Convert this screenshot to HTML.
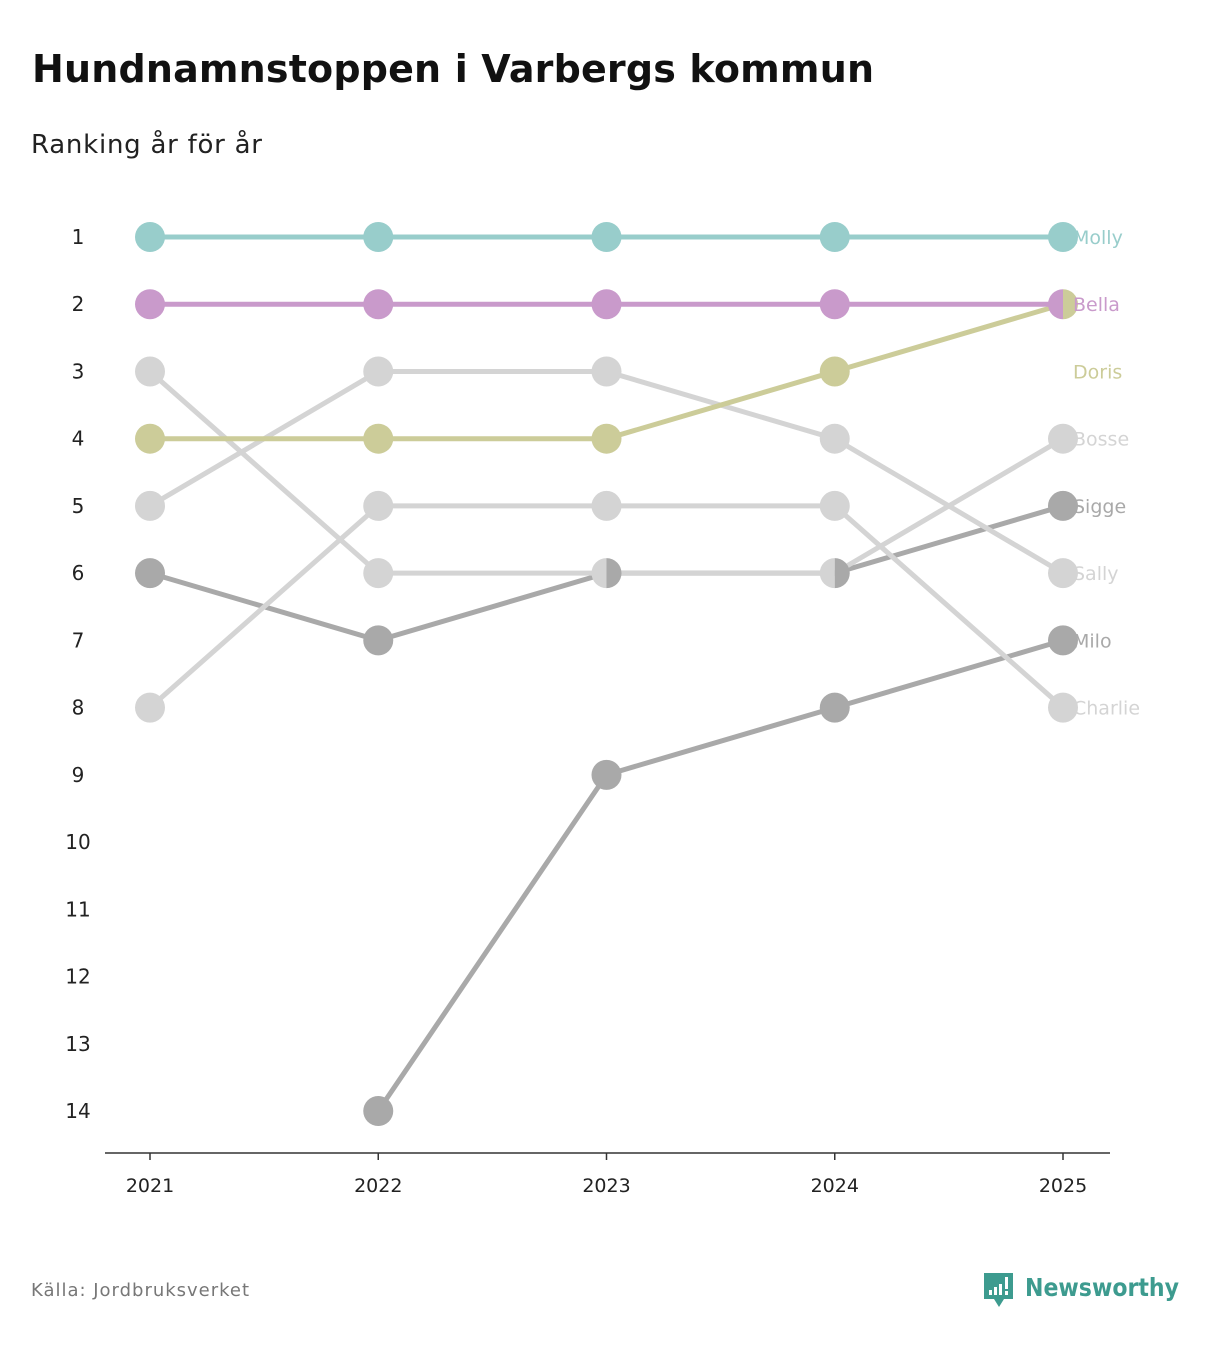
<!DOCTYPE html>
<html><head><meta charset="utf-8"><style>
body{margin:0;background:#fff;}
svg text{font-family:"DejaVu Sans","Liberation Sans",sans-serif;}
</style></head><body>
<svg id="c" width="1212" height="1340" xmlns="http://www.w3.org/2000/svg">
<text x="32" y="82" font-size="38" font-weight="bold" fill="#111" textLength="842">Hundnamnstoppen i Varbergs kommun</text>
<text x="31" y="153" font-size="26" fill="#222" textLength="231">Ranking år för år</text>
<text x="31" y="1296" font-size="18" fill="#777" textLength="218">Källa: Jordbruksverket</text>
<g>
<path d="M984 1273 h29 v26 h-9 l-5 8 l-5 -8 h-10 z" fill="#3d9b8f"/>
<rect x="989" y="1290" width="3" height="5" fill="#fff"/><rect x="994" y="1287" width="3" height="8" fill="#fff"/><rect x="999" y="1284" width="3" height="11" fill="#fff"/><rect x="1005" y="1277" width="3" height="12" fill="#fff"/><rect x="1005" y="1291" width="3" height="4" fill="#fff"/>
<text x="1025" y="1296" font-size="25" font-weight="bold" fill="#3d9b8f" textLength="154" lengthAdjust="spacingAndGlyphs">Newsworthy</text>
</g>
<g id="plot"></g>
</svg>
<script>
const years=[2021,2022,2023,2024,2025];
const names=["Sigge","Milo","Bosse","Sally","Charlie","Doris","Bella","Molly"];
const rMolly=[1,1,1,1,1];
const rBella=[2,2,2,2,2];
const rDoris=[4,4,4,3,2];
const rBosse=[3,6,6,6,4];
const rSally=[5,3,3,4,6];
const rCharlie=[8,5,5,5,8];
const rSigge=[6,7,6,6,5];
const rMilo=[null,14,9,8,7];
const rankTicks=[1,2,3,4,5,6,7,8,9,10,11,12,13,14];
const labelRanks=[5,7,4,6,8,3,2,1];
const ranks=[rSigge,rMilo,rBosse,rSally,rCharlie,rDoris,rBella,rMolly];
const colors=["#a9a9a9","#a9a9a9","#d4d4d4","#d4d4d4","#d4d4d4","#cccc99","#c99acb","#98cdcb"];
const X=i=>150+i*228.25;
const Y=r=>237+(r-1)*67.23;
const NS="http://www.w3.org/2000/svg";
const g=document.getElementById('plot');
function mk(t,a){const e=document.createElementNS(NS,t);for(const k in a)e.setAttribute(k,a[k]);g.appendChild(e);return e;}
const ax=mk('line',{x1:105,x2:1110,y1:1153,y2:1153,stroke:'#333','stroke-width':1.5});


years.forEach((y,i)=>{
 const t=mk('line',{x1:X(i),x2:X(i),y1:1153,y2:1160,stroke:'#333','stroke-width':1.5});
 
 
 const l=mk('text',{x:X(i),y:1192,'text-anchor':'middle','font-size':19,fill:'#222'});l.textContent=y;
 
 
});
rankTicks.forEach(r=>{
 const l=mk('text',{x:78,y:Y(r)+7,'text-anchor':'middle','font-size':20,fill:'#222'});l.textContent=r;
 
 
});
ranks.forEach((rs,s)=>{
 let d='';rs.forEach((r,i)=>{if(r==null)return;d+=(d?'L':'M')+X(i)+' '+Y(r);});
 const p=mk('path',{d:d,fill:'none',stroke:colors[s],'stroke-width':5});
 
 
});
const seen={};
ranks.forEach((rs,s)=>rs.forEach((r,i)=>{if(r==null)return;const k=i+'_'+r;(seen[k]=seen[k]||[]).push(s);}));
Object.keys(seen).forEach(k=>{
 const [i,r]=k.split('_').map(Number);const ss=seen[k];const cx=X(i),cy=Y(r),R=15;
 if(ss.length===1){
  const c=mk('circle',{cx:cx,cy:cy,r:R,fill:colors[ss[0]]});
  
  
 }else{
  const sL=ss[ss.length-1], sR=ss[0];
  const a=mk('path',{d:`M${cx} ${cy-R}A${R} ${R} 0 0 0 ${cx} ${cy+R}Z`,fill:colors[sL]});
  
  
  const b=mk('path',{d:`M${cx} ${cy-R}A${R} ${R} 0 0 1 ${cx} ${cy+R}Z`,fill:colors[sR]});
  
  
 }
});
names.forEach((n,s)=>{
 const t=mk('text',{x:1073,y:Y(labelRanks[s])+7,'font-size':19,fill:colors[s]});t.textContent=n;
 
 
});
</script>
</body></html>
